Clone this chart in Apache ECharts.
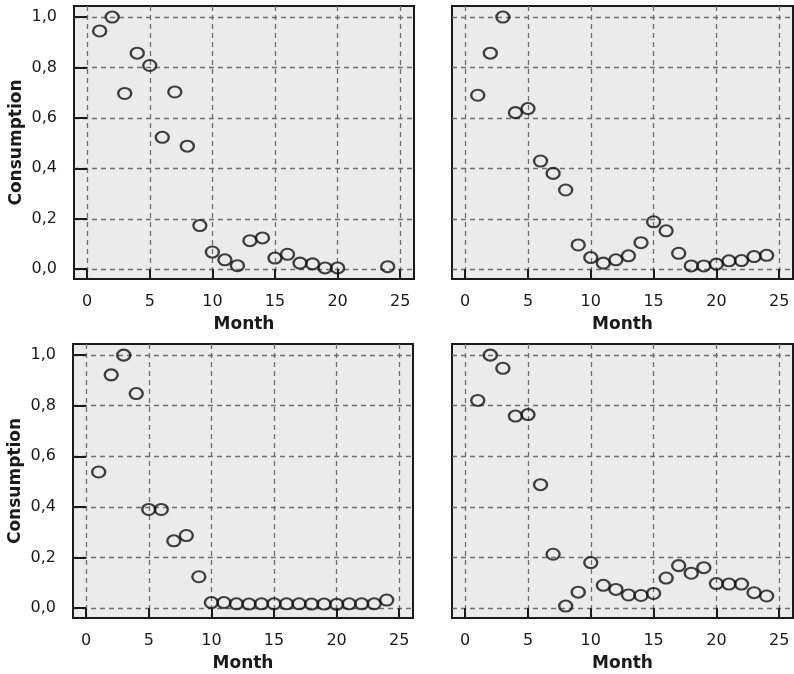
<!DOCTYPE html>
<html>
<head>
<meta charset="utf-8">
<script src="https://cdn.jsdelivr.net/npm/echarts@6/dist/echarts.min.js"></script>
<style>
html,body{margin:0;padding:0;background:#fff;}
#chart{width:794px;height:674px;}
</style>
</head>
<body>
<div id="chart"></div>
<script>
// ---- data ----
var xTicks = [0, 5, 10, 15, 20, 25];
var yTicks = [0, 0.2, 0.4, 0.6, 0.8, 1.0];

var months1 = [1,2,3,4,5,6,7,8,9,10,11,12,13,14,15,16,17,18,19,20,24];
var cons1 = [0.945,1.0,0.697,0.857,0.808,0.523,0.703,0.488,0.173,0.068,0.037,0.014,0.113,0.124,0.044,0.059,0.024,0.021,0.005,0.005,0.010];

var months2 = [1,2,3,4,5,6,7,8,9,10,11,12,13,14,15,16,17,18,19,20,21,22,23,24];
var cons2 = [0.690,0.857,1.0,0.621,0.637,0.429,0.380,0.314,0.096,0.046,0.024,0.037,0.053,0.105,0.188,0.152,0.063,0.013,0.013,0.020,0.033,0.034,0.050,0.055];

var months3 = [1,2,3,4,5,6,7,8,9,10,11,12,13,14,15,16,17,18,19,20,21,22,23,24];
var cons3 = [0.538,0.922,1.0,0.848,0.390,0.390,0.266,0.287,0.124,0.022,0.022,0.017,0.016,0.017,0.017,0.017,0.017,0.016,0.016,0.015,0.017,0.017,0.017,0.032];

var months4 = [1,2,3,4,5,6,7,8,9,10,11,12,13,14,15,16,17,18,19,20,21,22,23,24];
var cons4 = [0.821,1.0,0.948,0.759,0.765,0.488,0.213,0.008,0.063,0.180,0.090,0.074,0.052,0.050,0.058,0.119,0.168,0.138,0.160,0.097,0.095,0.095,0.061,0.048];

var xName = 'Month';
var yName = 'Consumption';

// ---- layout ----
var panels = [
  {months: months1, cons: cons1, left: 74, top: 6, width: 340, height: 273, yLabels: true},
  {months: months2, cons: cons2, left: 452, top: 6, width: 341, height: 273, yLabels: false},
  {months: months3, cons: cons3, left: 73, top: 344, width: 340, height: 274, yLabels: true},
  {months: months4, cons: cons4, left: 452, top: 344, width: 341, height: 274, yLabels: false}
];

var FONT = '"DejaVu Sans", Verdana, sans-serif';
var ink = '#1a1a1a';
var gridInk = '#6e6e6e';
var grids = [], xAxes = [], yAxes = [], series = [];

panels.forEach(function (p, i) {
  grids.push({
    left: p.left, top: p.top, width: p.width, height: p.height,
    show: true, backgroundColor: '#ebebeb', borderColor: ink, borderWidth: 2,
    containLabel: false
  });
  xAxes.push({
    type: 'value', gridIndex: i, min: -1.05, max: 26.1,
    name: xName, nameLocation: 'middle', nameGap: 37,
    nameTextStyle: {fontFamily: FONT, fontWeight: 'bold', fontSize: 17, color: ink},
    axisLine: {show: false},
    axisTick: {show: true, length: 10, inside: false, customValues: xTicks, lineStyle: {color: ink, width: 2}},
    axisLabel: {show: true, customValues: xTicks, margin: 15, fontFamily: FONT, fontSize: 16, color: ink},
    splitLine: {show: true, lineStyle: {color: gridInk, type: [5, 4], width: 1.3}}
  });
  yAxes.push({
    type: 'value', gridIndex: i, min: -0.039, max: 1.044,
    name: p.yLabels ? yName : '', nameLocation: 'middle', nameGap: 49,
    nameTextStyle: {fontFamily: FONT, fontWeight: 'bold', fontSize: 17, color: ink},
    axisLine: {show: false},
    axisTick: {show: p.yLabels, length: 13, customValues: yTicks, lineStyle: {color: ink, width: 2}},
    axisLabel: {show: p.yLabels, customValues: yTicks, margin: 17, fontFamily: FONT, fontSize: 16, color: ink,
      formatter: function (v) { return v.toFixed(1).replace('.', ','); }},
    splitLine: {show: true, lineStyle: {color: gridInk, type: [5, 4], width: 1.3}}
  });
  series.push({
    type: 'scatter', xAxisIndex: i, yAxisIndex: i,
    symbol: 'circle', symbolSize: [13, 11], clip: false,
    itemStyle: {color: 'rgba(0,0,0,0)', borderColor: '#111', borderWidth: 2.2},
    data: p.months.map(function (m, j) { return [m, p.cons[j]]; })
  });
});

var chart = echarts.init(document.getElementById('chart'), null, {renderer: 'canvas'});
chart.setOption({
  animation: false,
  backgroundColor: '#fff',
  grid: grids, xAxis: xAxes, yAxis: yAxes, series: series
});
</script>
</body>
</html>
